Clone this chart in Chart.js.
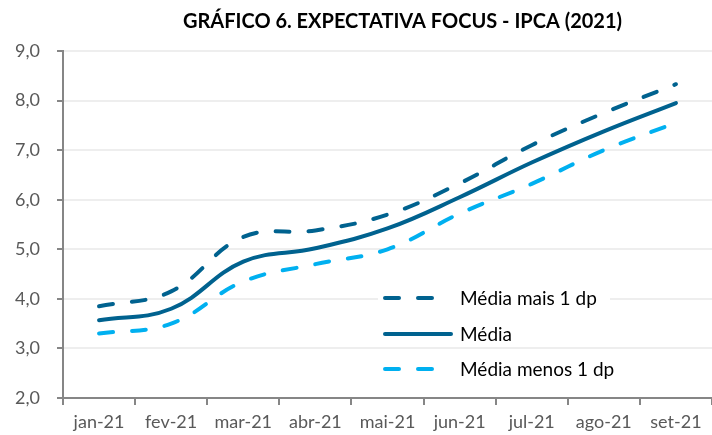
<!DOCTYPE html>
<html>
<head>
<meta charset="utf-8">
<script src="https://cdn.jsdelivr.net/npm/chart.js@4"></script>
<style>
  html, body { margin: 0; padding: 0; background: #fff; }
  #wrap { width: 712px; height: 435px; }
</style>
</head>
<body>
<div id="wrap"><canvas id="focusChart" width="712" height="435"></canvas></div>
<script>
// Chart data
const months = ['jan-21', 'fev-21', 'mar-21', 'abr-21', 'mai-21', 'jun-21', 'jul-21', 'ago-21', 'set-21'];
const mediaMais = [3.85, 4.15, 5.25, 5.38, 5.70, 6.33, 7.10, 7.75, 8.33];
const media = [3.57, 3.80, 4.75, 5.02, 5.42, 6.05, 6.75, 7.38, 7.95];
const mediaMenos = [3.30, 3.50, 4.35, 4.70, 5.00, 5.72, 6.32, 7.00, 7.55];
const yTicks = [2, 3, 4, 5, 6, 7, 8, 9];

const darkBlue = '#00628f';
const lightBlue = '#00b0f0';
const font = 'Lato, "Open Sans", sans-serif';

// Legend drawn inside the plot area, like the original
const insideLegend = {
    id: 'insideLegend',
    afterLayout(chart) {
        // nudge the title a bit to the right
        chart.titleBlock.left += 15;
        chart.titleBlock.right += 15;
    },
    afterDatasetsDraw(chart) {
        const ctx = chart.ctx;
        const rows = [298, 334, 369];
        ctx.save();
        ctx.fillStyle = '#ffffff';
        ctx.fillRect(378, 283, 232, 62);
        chart.data.datasets.forEach((ds, i) => {
            const y = rows[i];
            ctx.beginPath();
            ctx.strokeStyle = ds.borderColor;
            ctx.lineWidth = ds.borderWidth;
            ctx.lineCap = 'round';
            ctx.setLineDash(ds.borderDash || []);
            ctx.moveTo(385, y);
            ctx.lineTo(451, y);
            ctx.stroke();
            ctx.setLineDash([]);
            ctx.fillStyle = '#000000';
            ctx.font = '19px ' + font;
            ctx.textBaseline = 'middle';
            ctx.textAlign = 'left';
            ctx.fillText(ds.label, 460, y + 1);
        });
        ctx.restore();
    }
};

const ctx = document.getElementById('focusChart').getContext('2d');

new Chart(ctx, {
    type: 'line',
    data: {
        labels: months,
        datasets: [
            {
                label: 'Média mais 1 dp',
                data: mediaMais,
                borderColor: darkBlue,
                borderWidth: 4,
                borderDash: [14, 19],
                borderCapStyle: 'round',
                tension: 0.4,
                pointRadius: 0,
                fill: false,
            },
            {
                label: 'Média',
                data: media,
                borderColor: darkBlue,
                borderWidth: 4,
                borderCapStyle: 'round',
                tension: 0.4,
                pointRadius: 0,
                fill: false,
            },
            {
                label: 'Média menos 1 dp',
                data: mediaMenos,
                borderColor: lightBlue,
                borderWidth: 4,
                borderDash: [14, 19],
                borderCapStyle: 'round',
                tension: 0.4,
                pointRadius: 0,
                fill: false,
            },
        ],
    },
    options: {
        responsive: false,
        animation: false,
        layout: { padding: { top: 0, right: 0, bottom: 0, left: 0 } },
        plugins: {
            legend: { display: false },
            tooltip: { enabled: false },
            title: {
                display: true,
                fullSize: false,
                text: 'GRÁFICO 6. EXPECTATIVA FOCUS - IPCA (2021)',
                color: '#000000',
                font: { family: font, size: 20, weight: 'bold', lineHeight: 1.2 },
                padding: { top: 10, bottom: 17 },
            },
        },
        scales: {
            x: {
                offset: true,
                grid: {
                    offset: true,
                    drawOnChartArea: false,
                    tickLength: 7,
                    tickColor: '#868686',
                    lineWidth: 2,
                },
                border: { color: '#868686', width: 2 },
                ticks: {
                    color: '#595959',
                    font: { family: font, size: 18 },
                    padding: 6,
                    maxRotation: 0,
                    autoSkip: false,
                },
                afterFit(scale) { scale.height = 37; },
            },
            y: {
                min: 2,
                max: 9,
                afterBuildTicks(scale) {
                    scale.ticks = yTicks.map(v => ({ value: v }));
                },
                grid: {
                    color: '#eeeeee',
                    lineWidth: 2,
                    tickLength: 6,
                    tickColor: '#868686',
                },
                border: { color: '#868686', width: 2 },
                ticks: {
                    color: '#595959',
                    font: { family: font, size: 18 },
                    padding: 17,
                    callback: v => Number(v).toFixed(1).replace('.', ','),
                },
                afterFit(scale) { scale.width = 63; },
            },
        },
    },
    plugins: [insideLegend],
});
</script>
</body>
</html>
